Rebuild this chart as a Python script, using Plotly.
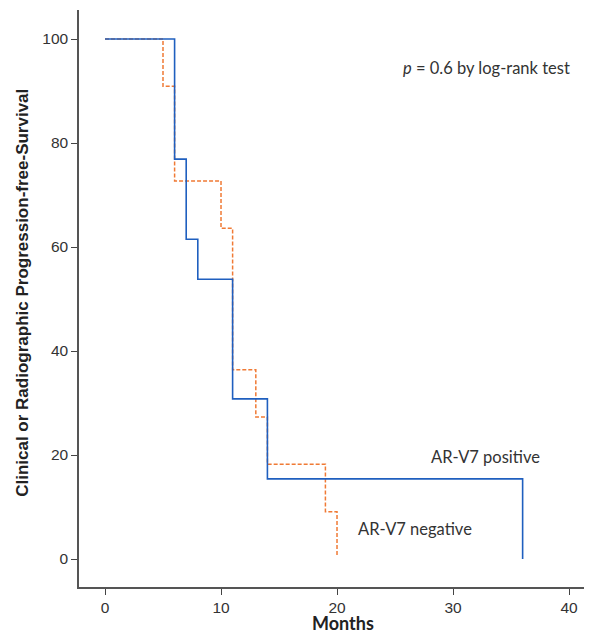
import plotly.graph_objects as go

# Data
pos_months = [0, 6, 7, 8, 11, 14, 36]
pos_surv = [100, 76.9, 61.5, 53.8, 30.8, 15.4, 0]
neg_months = [0, 5, 6, 10, 11, 13, 14, 19, 20]
neg_surv = [100, 90.9, 72.7, 63.6, 36.4, 27.3, 18.2, 9.1, 0.5]
x_ticks = [0, 10, 20, 30, 40]
y_ticks = [0, 20, 40, 60, 80, 100]

fig = go.Figure()
fig.add_trace(go.Scatter(x=neg_months, y=neg_surv, mode="lines", line_shape="hv",
                         line=dict(color="#f07a35", width=1.5, dash="4px,2px"),
                         name="AR-V7 negative", showlegend=False))
fig.add_trace(go.Scatter(x=pos_months, y=pos_surv, mode="lines", line_shape="hv",
                         line=dict(color="#1f5fbf", width=1.6),
                         name="AR-V7 positive", showlegend=False))

axis_font = dict(family="Liberation Sans, Arial, sans-serif", size=15.5, color="#333333")
ann_font = dict(family="Lato, Open Sans, sans-serif", size=16.5, color="#333")
fig.update_layout(
    width=584, height=626,
    margin=dict(l=71, r=0, t=2, b=47),
    paper_bgcolor="white", plot_bgcolor="white",
    xaxis=dict(range=[-2.241, 41.98], tickvals=x_ticks, ticks="outside", ticklen=6,
               tickcolor="#444", showline=True, linecolor="#555", linewidth=1.5,
               showgrid=False, zeroline=False, tickfont=axis_font),
    yaxis=dict(range=[-5.385, 105.58], tickvals=y_ticks, ticks="outside", ticklen=6,
               tickcolor="#444", showline=True, linecolor="#555", linewidth=1.5,
               showgrid=False, zeroline=False, tickfont=axis_font),
    annotations=[
        dict(text="<i>p</i> = 0.6 by log-rank test", x=32.9, y=94.4, xref="x", yref="y",
             showarrow=False, font=ann_font),
        dict(text="AR-V7 positive", x=32.8, y=19.6, xref="x", yref="y",
             showarrow=False, font=ann_font),
        dict(text="AR-V7 negative", x=26.7, y=5.8, xref="x", yref="y",
             showarrow=False, font=ann_font),
        dict(text="<b>Months</b>", x=0.515, y=-0.063, xref="paper", yref="paper",
             xanchor="center", yanchor="middle", showarrow=False,
             font=dict(family="Lato, Open Sans, sans-serif", size=18, color="#222")),
        dict(text="<b>Clinical or Radiographic Progression-free-Survival</b>", x=-0.109, y=0.51,
             xref="paper", yref="paper", textangle=-90, xanchor="center", yanchor="middle",
             showarrow=False, font=dict(family="Liberation Sans, Arial, sans-serif", size=17, color="#222")),
    ],
)
fig.write_html("out.html")
